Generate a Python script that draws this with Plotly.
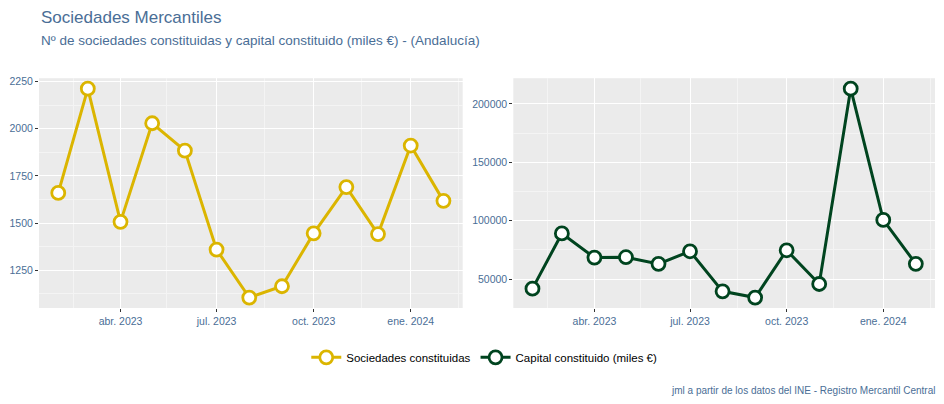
import pandas as pd
import plotly.graph_objects as go
from plotly.subplots import make_subplots

# ---- data ----
months = ["2023-02-01", "2023-03-01", "2023-04-01", "2023-05-01", "2023-06-01",
          "2023-07-01", "2023-08-01", "2023-09-01", "2023-10-01", "2023-11-01",
          "2023-12-01", "2024-01-01", "2024-02-01"]
sociedades = [1660, 2212, 1507, 2029, 1884, 1360, 1106, 1166, 1446, 1691, 1442, 1911, 1618]
capital = [41760, 89070, 68350, 68690, 63000, 73780, 39470, 34120, 74630, 45750,
           213080, 100630, 63000]
tick_dates = ["2023-04-01", "2023-07-01", "2023-10-01", "2024-01-01"]
tick_labels = ["abr. 2023", "jul. 2023", "oct. 2023", "ene. 2024"]
series_names = ["Sociedades constituidas", "Capital constituido (miles €)"]

title = "Sociedades Mercantiles"
subtitle = "Nº de sociedades constituidas y capital constituido (miles €) - (Andalucía)"
caption = "jml a partir de los datos del INE - Registro Mercantil Central"

GOLD = "#DBB500"
GREEN = "#00441F"
TXT = "#4A6E96"
FONT = "Liberation Sans, Arial, sans-serif"

dates = pd.to_datetime(months)
span = dates.max() - dates.min()
xr = [dates.min() - span * 0.05, dates.max() + span * 0.05]


def yrange(v):
    s = max(v) - min(v)
    return [min(v) - 0.05 * s, max(v) + 0.05 * s]


fig = make_subplots(rows=1, cols=2)

fig.add_trace(go.Scatter(
    x=dates, y=sociedades, mode="lines+markers", name=series_names[0],
    line=dict(color=GOLD, width=3),
    marker=dict(size=13, color="white", line=dict(color=GOLD, width=2.8)),
), row=1, col=1)
fig.add_trace(go.Scatter(
    x=dates, y=capital, mode="lines+markers", name=series_names[1],
    line=dict(color=GREEN, width=3),
    marker=dict(size=13, color="white", line=dict(color=GREEN, width=2.8)),
), row=1, col=2)

W, H = 944, 404
ydom = [1 - 307.3 / H, 1 - 75.8 / H]

common_x = dict(
    range=xr, tickvals=pd.to_datetime(tick_dates), ticktext=tick_labels,
    showgrid=True, gridcolor="white", gridwidth=1.2,
    ticks="outside", ticklen=3, tickcolor="#333333", tickwidth=1,
    tickfont=dict(size=10.5, color=TXT, family=FONT),
    minor=dict(tick0="2023-02-15", dtick="M3", showgrid=True,
               gridcolor="#F4F4F4", gridwidth=0.7),
    zeroline=False, showline=False,
)
common_y = dict(
    showgrid=True, gridcolor="white", gridwidth=1.2,
    ticks="outside", ticklen=3, tickcolor="#333333", tickwidth=1,
    tickfont=dict(size=10.5, color=TXT, family=FONT),
    zeroline=False, showline=False, tickformat="d",
)

fig.update_xaxes(domain=[39 / W, 462.7 / W], **common_x, row=1, col=1)
fig.update_xaxes(domain=[513.3 / W, 935 / W], **common_x, row=1, col=2)
fig.update_yaxes(domain=ydom, range=yrange(sociedades), dtick=250, tick0=0,
                 minor=dict(dtick=125, tick0=0, showgrid=True, gridcolor="#F4F4F4", gridwidth=0.7),
                 **common_y, row=1, col=1)
fig.update_yaxes(domain=ydom, range=yrange(capital), dtick=50000, tick0=0,
                 minor=dict(dtick=25000, tick0=0, showgrid=True, gridcolor="#F4F4F4", gridwidth=0.7),
                 **common_y, row=1, col=2)

fig.update_layout(
    width=W, height=H,
    margin=dict(l=0, r=0, t=0, b=0),
    paper_bgcolor="white", plot_bgcolor="#EBEBEB",
    font=dict(family=FONT, color="black"),
    showlegend=True,
    legend=dict(orientation="h", x=0.513, xanchor="center", y=1 - 357 / H, yanchor="middle",
                font=dict(size=11.5, color="black", family=FONT),
                itemwidth=30, bgcolor="rgba(0,0,0,0)", tracegroupgap=0),
    annotations=[
        dict(text=title, x=39 / W, y=1 - 15 / H, xref="paper", yref="paper",
             xanchor="left", yanchor="middle", showarrow=False,
             font=dict(size=17, color=TXT, family=FONT)),
        dict(text=subtitle, x=39 / W, y=1 - 38 / H, xref="paper", yref="paper",
             xanchor="left", yanchor="middle", showarrow=False,
             font=dict(size=13.5, color=TXT, family=FONT)),
        dict(text=caption, x=937 / W, y=1 - 390 / H, xref="paper", yref="paper",
             xanchor="right", yanchor="middle", showarrow=False,
             font=dict(size=10, color=TXT, family=FONT)),
    ],
)

fig.write_html("out.html", config={"displayModeBar": False},
               post_script="document.body.style.margin='0';")
